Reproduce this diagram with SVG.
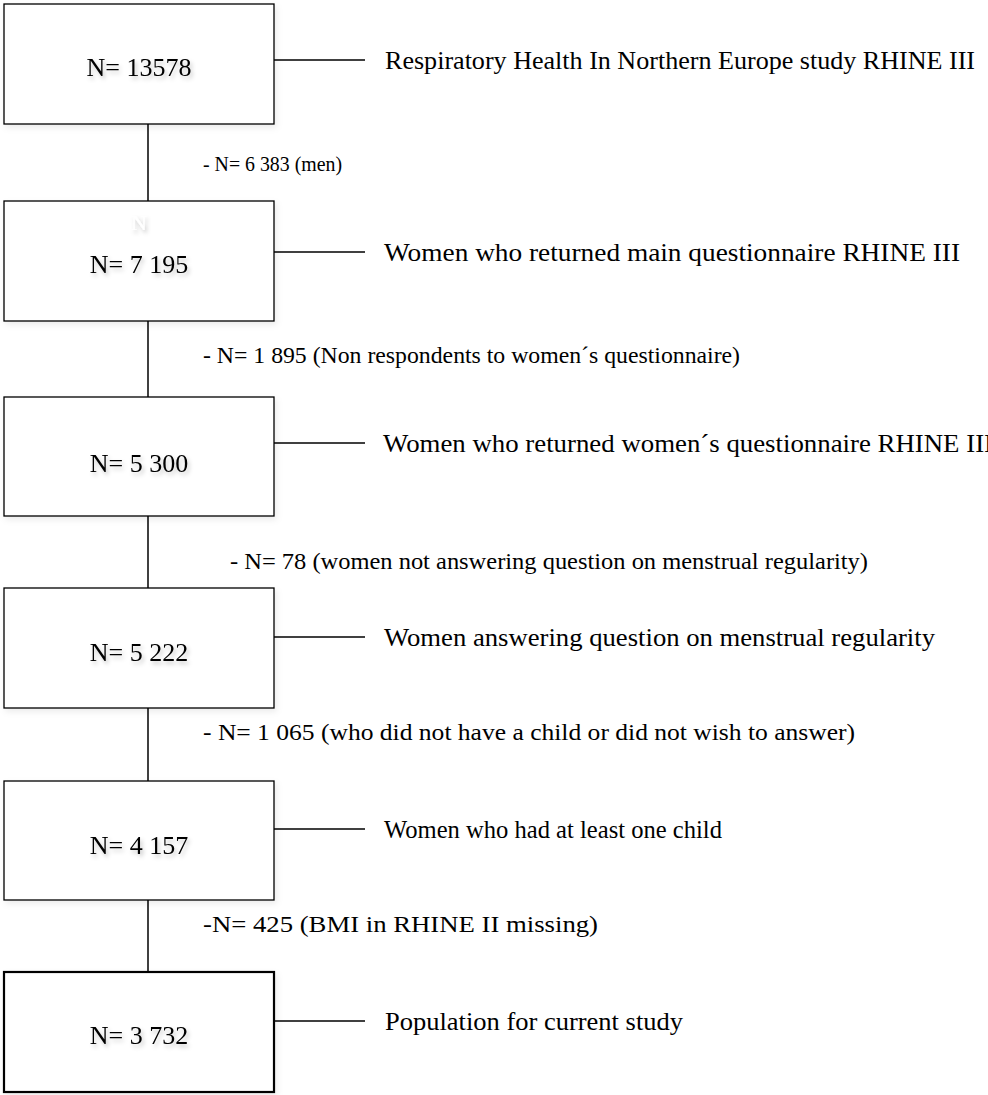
<svg xmlns="http://www.w3.org/2000/svg" width="988" height="1095" viewBox="0 0 988 1095">
<style>
.box{fill:#fff;stroke:#000;stroke-width:1.3}
.box.last{stroke-width:2.2}
.bt{font-family:"Liberation Serif","Times New Roman",serif;font-size:26px;fill:#000;text-anchor:middle}
.side{font-family:"Liberation Serif","Times New Roman",serif;font-size:26px;fill:#000}
.drop{font-family:"Liberation Serif","Times New Roman",serif;font-size:23.5px;fill:#000}
.ln{stroke:#000;stroke-width:1.5;fill:none}
</style>
<defs>
<filter id="sh" x="-10%" y="-30%" width="130%" height="170%">
<feDropShadow dx="2" dy="3" stdDeviation="2" flood-color="#000" flood-opacity="0.22"/>
</filter>
<filter id="bsh" x="-5%" y="-5%" width="112%" height="115%">
<feDropShadow dx="2" dy="3" stdDeviation="3" flood-color="#000" flood-opacity="0.08"/>
</filter>
</defs>
<rect width="988" height="1095" fill="#fff"/>
<g id="connectors">
<line class="ln" x1="148" y1="124" x2="148" y2="201"/>
<line class="ln" x1="148" y1="321" x2="148" y2="397"/>
<line class="ln" x1="148" y1="516" x2="148" y2="588"/>
<line class="ln" x1="148" y1="708" x2="148" y2="781"/>
<line class="ln" x1="148" y1="900" x2="148" y2="972"/>
<line class="ln" x1="270" y1="60" x2="365" y2="60"/>
<line class="ln" x1="270" y1="252" x2="365" y2="252"/>
<line class="ln" x1="270" y1="443" x2="365" y2="443"/>
<line class="ln" x1="270" y1="637" x2="365" y2="637"/>
<line class="ln" x1="270" y1="829" x2="365" y2="829"/>
<line class="ln" x1="270" y1="1021" x2="365" y2="1021"/>
</g>
<g id="n1">
<rect class="box" x="4" y="4" width="270" height="120" filter="url(#bsh)"/>
<text class="bt" x="139" y="76" filter="url(#sh)">N= 13578</text>
<text class="side" x="385" y="69" textLength="590" lengthAdjust="spacingAndGlyphs">Respiratory Health In Northern Europe study RHINE III</text>
</g>
<g id="n2">
<rect class="box" x="4" y="201" width="270" height="120" filter="url(#bsh)"/>
<text class="bt" x="139" y="230" style="fill:#fff;font-size:22px" filter="url(#sh)">N</text>
<text class="bt" x="139" y="273" filter="url(#sh)">N= 7 195</text>
<text class="side" x="384" y="261" textLength="576" lengthAdjust="spacingAndGlyphs">Women who returned main questionnaire RHINE III</text>
</g>
<g id="n3">
<rect class="box" x="4" y="397" width="270" height="119" filter="url(#bsh)"/>
<text class="bt" x="139" y="472" filter="url(#sh)">N= 5 300</text>
<text class="side" x="383" y="452" textLength="610" lengthAdjust="spacingAndGlyphs">Women who returned women´s questionnaire RHINE III</text>
</g>
<g id="n4">
<rect class="box" x="4" y="588" width="270" height="120" filter="url(#bsh)"/>
<text class="bt" x="139" y="661" filter="url(#sh)">N= 5 222</text>
<text class="side" x="384" y="646" textLength="551" lengthAdjust="spacingAndGlyphs">Women answering question on menstrual regularity</text>
</g>
<g id="n5">
<rect class="box" x="4" y="781" width="270" height="119" filter="url(#bsh)"/>
<text class="bt" x="139" y="854" filter="url(#sh)">N= 4 157</text>
<text class="side" x="384" y="838" textLength="338" lengthAdjust="spacingAndGlyphs">Women who had at least one child</text>
</g>
<g id="n6">
<rect class="box last" x="4" y="972" width="270" height="120" filter="url(#bsh)"/>
<text class="bt" x="139" y="1044" filter="url(#sh)">N= 3 732</text>
<text class="side" x="385" y="1030" textLength="298" lengthAdjust="spacingAndGlyphs">Population for current study</text>
</g>
<g id="drops">
<text class="drop" x="203" y="171" style="font-size:22px" textLength="139" lengthAdjust="spacingAndGlyphs">- N= 6 383 (men)</text>
<text class="drop" x="203" y="363" textLength="537" lengthAdjust="spacingAndGlyphs">- N= 1 895 (Non respondents to women´s questionnaire)</text>
<text class="drop" x="230" y="569" textLength="638" lengthAdjust="spacingAndGlyphs">- N= 78 (women not answering question on menstrual regularity)</text>
<text class="drop" x="203" y="740" textLength="652" lengthAdjust="spacingAndGlyphs">- N= 1 065 (who did not have a child or did not wish to answer)</text>
<text class="drop" x="203" y="932" textLength="395" lengthAdjust="spacingAndGlyphs">-N= 425 (BMI in RHINE II missing)</text>
</g>
</svg>
